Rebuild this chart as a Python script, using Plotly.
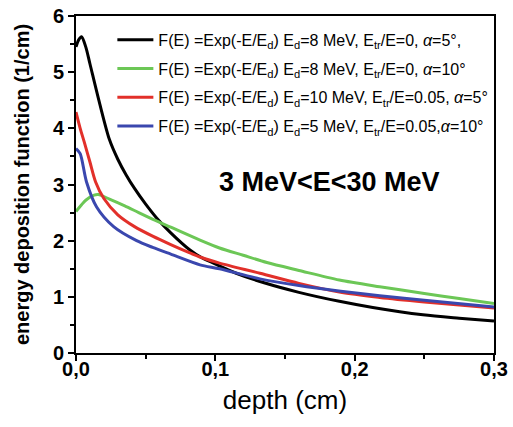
import plotly.graph_objects as go

# Energy deposition function vs. depth for four source parameter sets
depth_black = [0, 0.002, 0.004, 0.007, 0.010, 0.017, 0.024, 0.030, 0.036, 0.042, 0.050,
               0.058, 0.068, 0.082, 0.090, 0.103, 0.115, 0.135, 0.160, 0.189, 0.213,
               0.249, 0.275, 0.300]
edf_black = [5.45, 5.58, 5.63, 5.45, 5.15, 4.44, 3.80, 3.45, 3.17, 2.93, 2.65,
             2.40, 2.14, 1.83, 1.70, 1.55, 1.42, 1.25, 1.08, 0.92, 0.81,
             0.68, 0.62, 0.57]

depth_green = [0, 0.004, 0.007, 0.013, 0.016, 0.024, 0.035, 0.045, 0.057, 0.068, 0.089,
               0.103, 0.120, 0.137, 0.160, 0.189, 0.218, 0.250, 0.275, 0.300]
edf_green = [2.52, 2.64, 2.72, 2.81, 2.82, 2.74, 2.62, 2.50, 2.36, 2.24, 2.01,
             1.87, 1.74, 1.61, 1.47, 1.30, 1.18, 1.06, 0.97, 0.88]

depth_red = [0, 0.003, 0.006, 0.010, 0.014, 0.020, 0.030, 0.042, 0.055, 0.068, 0.080,
             0.090, 0.103, 0.132, 0.160, 0.190, 0.218, 0.250, 0.300]
edf_red = [4.29, 4.00, 3.75, 3.40, 3.05, 2.75, 2.46, 2.25, 2.08, 1.93, 1.80,
           1.70, 1.60, 1.42, 1.24, 1.08, 0.99, 0.91, 0.80]

depth_blue = [0, 0.003, 0.0075, 0.0148, 0.027, 0.0435, 0.055, 0.068, 0.089, 0.103,
              0.132, 0.160, 0.190, 0.218, 0.250, 0.300]
edf_blue = [3.64, 3.55, 3.05, 2.60, 2.25, 2.00, 1.88, 1.76, 1.57, 1.50,
            1.32, 1.20, 1.10, 1.02, 0.94, 0.82]

x_ticks = [0.0, 0.1, 0.2, 0.3]
x_tick_text = ["0,0", "0,1", "0,2", "0,3"]
y_ticks = [0, 1, 2, 3, 4, 5, 6]

names = [
    "F(E) =Exp(-E/E<sub>d</sub>) E<sub>d</sub>=8 MeV, E<sub>tr</sub>/E=0, <i>α</i>=5°,",
    "F(E) =Exp(-E/E<sub>d</sub>) E<sub>d</sub>=8 MeV, E<sub>tr</sub>/E=0, <i>α</i>=10°",
    "F(E) =Exp(-E/E<sub>d</sub>) E<sub>d</sub>=10 MeV, E<sub>tr</sub>/E=0.05, <i>α</i>=5°",
    "F(E) =Exp(-E/E<sub>d</sub>) E<sub>d</sub>=5 MeV, E<sub>tr</sub>/E=0.05,<i>α</i>=10°",
]
colors = ["#000000", "#6CC756", "#E2302A", "#3A47AE"]
series = [(depth_black, edf_black), (depth_green, edf_green),
          (depth_red, edf_red), (depth_blue, edf_blue)]

FONT = "Liberation Sans, Arial, sans-serif"

fig = go.Figure()
for i, ((xs, ys), name, col) in enumerate(zip(series, names, colors)):
    fig.add_trace(go.Scatter(
        x=xs, y=ys, mode="lines", name=name, legendgroup=f"g{i}",
        line=dict(color=col, width=3, shape="spline", smoothing=0.8),
    ))

axis_common = dict(
    showline=True, linecolor="black", linewidth=2, mirror=True,
    ticks="outside", tickcolor="black", tickwidth=2, ticklen=6,
    showgrid=False, zeroline=False, automargin=False,
    tickfont=dict(family=FONT, size=20, color="black", weight="bold"),
)

fig.update_layout(
    width=513, height=427,
    margin=dict(l=76, r=19, t=16, b=74, autoexpand=False),
    paper_bgcolor="white", plot_bgcolor="white",
    font=dict(family=FONT, color="black"),
    showlegend=True,
    legend=dict(
        x=0.087, y=0.98, xanchor="left", yanchor="top",
        bgcolor="rgba(0,0,0,0)", borderwidth=0,
        font=dict(family=FONT, size=16, color="black"),
        tracegroupgap=5, itemwidth=36,
    ),
    xaxis=dict(
        range=[0, 0.3], tickvals=x_ticks, ticktext=x_tick_text,
        ticklabelstandoff=-9,
        minor=dict(dtick=0.05, ticks="outside", ticklen=4, tickwidth=2, tickcolor="black"),
        title=dict(text="depth (cm)", font=dict(family=FONT, size=26), standoff=12),
        **axis_common,
    ),
    yaxis=dict(
        range=[0, 6], tickvals=y_ticks,
        minor=dict(dtick=0.5, ticks="outside", ticklen=4, tickwidth=2, tickcolor="black"),
        title=dict(text="energy deposition function (1/cm)",
                   font=dict(family=FONT, size=20, weight="bold"), standoff=18),
        **axis_common,
    ),
    annotations=[dict(
        x=0.182, y=3.04, xref="x", yref="y",
        text="3 MeV&lt;E&lt;30 MeV", showarrow=False,
        font=dict(family=FONT, size=27, color="black", weight="bold"),
    )],
)

fig.write_html("out.html")
